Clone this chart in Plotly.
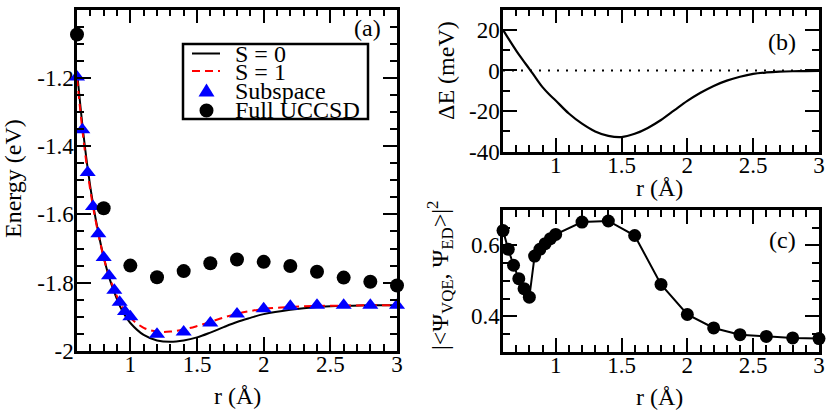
import plotly.graph_objects as go

# ---------------- data ----------------
# panel (a)
r_curve = [0.6, 0.64, 0.68, 0.72, 0.76, 0.8, 0.84, 0.88, 0.92, 0.96, 1.0, 1.1, 1.2, 1.3,
           1.4, 1.5, 1.6, 1.7, 1.8, 1.9, 2.0, 2.2, 2.4, 2.6, 2.8, 3.0]
E_S0 = [-1.180, -1.336, -1.465, -1.569, -1.653, -1.725, -1.783, -1.828, -1.867, -1.896, -1.918,
        -1.953, -1.969, -1.973, -1.969, -1.960, -1.946, -1.930, -1.915, -1.903, -1.892, -1.879,
        -1.871, -1.868, -1.866, -1.866]
E_S1 = [-1.200, -1.352, -1.477, -1.577, -1.657, -1.726, -1.780, -1.822, -1.857, -1.884, -1.903,
        -1.932, -1.943, -1.943, -1.937, -1.927, -1.915, -1.902, -1.891, -1.883, -1.877, -1.871,
        -1.868, -1.867, -1.866, -1.866]

r_sub = [0.6, 0.64, 0.68, 0.72, 0.76, 0.8, 0.84, 0.88, 0.92, 0.96, 1.0,
         1.2, 1.4, 1.6, 1.8, 2.0, 2.2, 2.4, 2.6, 2.8, 3.0]
E_sub = [-1.198, -1.352, -1.477, -1.577, -1.657, -1.726, -1.780, -1.822, -1.857, -1.884, -1.900,
         -1.951, -1.944, -1.918, -1.892, -1.876, -1.869, -1.866, -1.866, -1.866, -1.866]

r_full = [0.6, 0.8, 1.0, 1.2, 1.4, 1.6, 1.8, 2.0, 2.2, 2.4, 2.6, 2.8, 3.0]
E_full = [-1.073, -1.582, -1.750, -1.784, -1.766, -1.743, -1.732, -1.739, -1.751, -1.768,
          -1.785, -1.797, -1.808]

# panel (b)
r_dE = [0.6, 0.65, 0.7, 0.75, 0.8, 0.85, 0.9, 0.95, 1.0, 1.1, 1.2, 1.3, 1.4, 1.5, 1.6, 1.7,
        1.8, 1.9, 2.0, 2.1, 2.2, 2.3, 2.4, 2.5, 2.6, 2.7, 2.8, 2.9, 3.0]
dE_meV = [20.0, 14.8, 9.8, 5.2, 0.8, -3.8, -8.2, -11.7, -14.8, -21.2, -26.2, -30.0, -32.2,
          -32.8, -31.2, -28.3, -24.4, -19.7, -15.0, -11.0, -7.6, -5.0, -3.1, -1.7, -1.0,
          -0.6, -0.4, -0.3, -0.2]
r_zero = [0.6, 3.0]
zero_line = [0.0, 0.0]

# panel (c)
r_ov = r_sub
overlap = [0.642, 0.589, 0.544, 0.506, 0.478, 0.454, 0.570, 0.589, 0.605, 0.619, 0.631,
           0.666, 0.669, 0.628, 0.490, 0.405, 0.367, 0.348, 0.343, 0.339, 0.337]

# tick labels
x_tickvals = [1, 1.5, 2, 2.5, 3]
x_ticktext = ["1", "1.5", "2", "2.5", "3"]
ya_tickvals = [-2, -1.8, -1.6, -1.4, -1.2, -1]
ya_ticktext = ["-2", "-1.8", "-1.6", "-1.4", "-1.2", "-1"]
yb_tickvals = [-40, -20, 0, 20]
yb_ticktext = ["-40", "-20", "0", "20"]
yc_tickvals = [0.4, 0.6]
yc_ticktext = ["0.4", "0.6"]

# ---------------- layout helpers ----------------
W, H = 830, 411
FONT = "Liberation Serif"


def px(x):
    return x / W


def py(y):
    return 1 - y / H


fig = go.Figure()

# panel (a)
fig.add_trace(go.Scatter(x=r_curve, y=E_S0, mode="lines", line=dict(color="black", width=2, shape="spline"),
                         xaxis="x", yaxis="y", showlegend=False, cliponaxis=False))
fig.add_trace(go.Scatter(x=r_curve, y=E_S1, mode="lines",
                         line=dict(color="#ff0000", width=2, dash="8px,5px", shape="spline"),
                         xaxis="x", yaxis="y", showlegend=False, cliponaxis=False))
fig.add_trace(go.Scatter(x=r_sub, y=E_sub, mode="markers",
                         marker=dict(symbol="triangle-up", color="#0000ff", size=14),
                         xaxis="x", yaxis="y", showlegend=False, cliponaxis=False))
fig.add_trace(go.Scatter(x=r_full, y=E_full, mode="markers",
                         marker=dict(symbol="circle", color="black", size=14),
                         xaxis="x", yaxis="y", showlegend=False, cliponaxis=False))

# panel (b)
fig.add_trace(go.Scatter(x=r_zero, y=zero_line, mode="lines",
                         line=dict(color="black", width=2, dash="2px,7px"),
                         xaxis="x2", yaxis="y2", showlegend=False))
fig.add_trace(go.Scatter(x=r_dE, y=dE_meV, mode="lines", line=dict(color="black", width=2.2, shape="spline"),
                         xaxis="x2", yaxis="y2", showlegend=False))

# panel (c)
fig.add_trace(go.Scatter(x=r_ov, y=overlap, mode="lines+markers", line=dict(color="black", width=2),
                         marker=dict(symbol="circle", color="black", size=13),
                         xaxis="x3", yaxis="y3", showlegend=False, cliponaxis=False))

axis_common = dict(showline=True, linewidth=2.5, linecolor="black", mirror="allticks",
                   ticks="inside", ticklen=14, tickwidth=2, tickcolor="black",
                   showgrid=False, zeroline=False, tickmode="array", automargin=False,
                   tickfont=dict(family=FONT, size=23, color="black"))


def xaxis(domain, anchor):
    return dict(axis_common, domain=domain, anchor=anchor, range=[0.6, 3.0],
                tickvals=x_tickvals, ticktext=x_ticktext, ticklabelstandoff=-9,
                minor=dict(tickmode="linear", tick0=0, dtick=0.1, ticks="inside", ticklen=7,
                           tickwidth=2, tickcolor="black", showgrid=False))


def yaxis(domain, anchor, rng, tv, tt, mdt):
    return dict(axis_common, domain=domain, anchor=anchor, range=rng, tickvals=tv, ticktext=tt,
                ticklabelstandoff=-4,
                minor=dict(tickmode="linear", tick0=0, dtick=mdt, ticks="inside", ticklen=7,
                           tickwidth=2, tickcolor="black", showgrid=False))


dom_ax = [px(77), px(397)]
dom_bx = [px(503), px(819)]
dom_ay = [py(351), py(9.5)]
dom_by = [py(151.7), py(9.5)]
dom_cy = [py(351.7), py(210)]

annotations = []


def ann(text, x, y, size=24, angle=0, xanchor="center", color="black"):
    annotations.append(dict(text=text, x=px(x), y=py(y), xref="paper", yref="paper",
                            showarrow=False, textangle=angle, xanchor=xanchor, yanchor="middle",
                            font=dict(family=FONT, size=size, color=color)))


ann("Energy (eV)", 13, 179, angle=-90)
ann("r (Å)", 237, 396)
ann("ΔE (meV)", 446, 71, angle=-90)
ann("r (Å)", 659, 188)
ann("|&lt;Ψ<sub>VQE</sub>, Ψ<sub>ED</sub>&gt;|<sup>2</sup>", 440, 276, angle=-90)
ann("r (Å)", 659, 397)
ann("(a)", 367, 28)
ann("(b)", 782, 42)
ann("(c)", 782, 240)

# manual legend (tight rows as in the reference)
leg_rows = ["S = 0", "S = 1", "Subspace", "Full UCCSD"]
leg_y = [53.5, 72, 91, 110]
for t, yy in zip(leg_rows, leg_y):
    ann(t, 233, yy, xanchor="left")

shapes = [
    dict(type="rect", xref="paper", yref="paper", x0=px(183), x1=px(368), y0=py(44), y1=py(119),
         line=dict(color="black", width=2.5), fillcolor="white", layer="below"),
    dict(type="line", xref="paper", yref="paper", x0=px(192), x1=px(220), y0=py(53.5), y1=py(53.5),
         line=dict(color="black", width=2)),
    dict(type="line", xref="paper", yref="paper", x0=px(192), x1=px(220), y0=py(71), y1=py(71),
         line=dict(color="#ff0000", width=2, dash="8px,5px")),
    dict(type="path", xref="paper", yref="paper",
         path="M {:.5f},{:.5f} L {:.5f},{:.5f} L {:.5f},{:.5f} Z".format(
             px(206.5), py(83.5), px(198.5), py(96.5), px(214.5), py(96.5)),
         fillcolor="#0000ff", line=dict(color="#0000ff", width=0)),
    dict(type="circle", xref="paper", yref="paper", x0=px(199.5), x1=px(213.5), y0=py(103.5),
         y1=py(117.5), fillcolor="black", line=dict(color="black", width=0)),
]

fig.update_layout(
    width=W, height=H, margin=dict(l=0, r=0, t=0, b=0, autoexpand=False),
    paper_bgcolor="white", plot_bgcolor="white",
    xaxis=xaxis(dom_ax, "y"),
    yaxis=yaxis(dom_ay, "x", [-2, -1], ya_tickvals, ya_ticktext, 0.05),
    xaxis2=xaxis(dom_bx, "y2"),
    yaxis2=yaxis(dom_by, "x2", [-40, 30], yb_tickvals, yb_ticktext, 10),
    xaxis3=xaxis(dom_bx, "y3"),
    yaxis3=yaxis(dom_cy, "x3", [0.3, 0.7], yc_tickvals, yc_ticktext, 0.05),
    annotations=annotations, shapes=shapes, showlegend=False,
    font=dict(family=FONT, color="black"),
)

fig.write_html("out.html", config={"displayModeBar": False},
               post_script="document.body.style.margin='0';document.body.style.overflow='hidden';")
